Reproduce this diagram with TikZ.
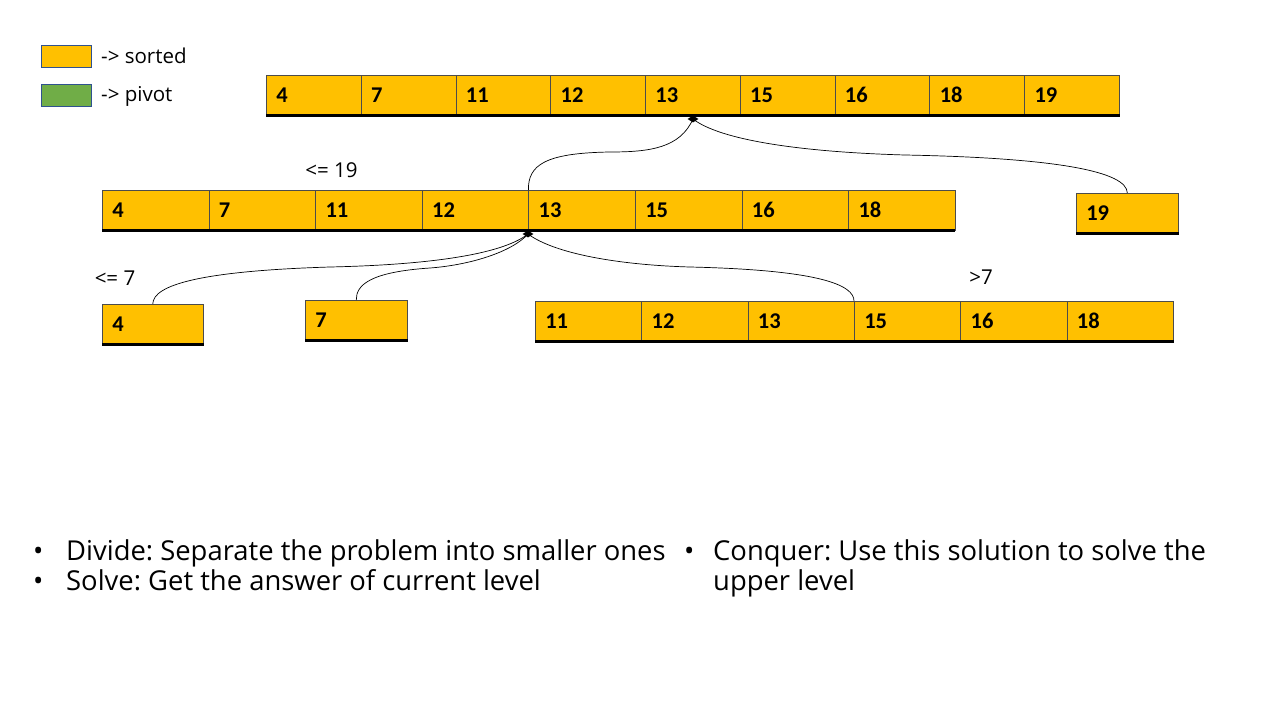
\documentclass[tikz,border=0pt]{standalone}
\usepackage{fontspec}
\setmainfont{Open Sans}
\newfontfamily\numfont{Carlito}
\usetikzlibrary{shapes.geometric}
\definecolor{sortc}{HTML}{FFC000}
\definecolor{pivc}{HTML}{70AD47}
\definecolor{legb}{HTML}{2F528F}
\frenchspacing
\begin{document}
\frenchspacing
\begin{tikzpicture}[x=1pt,y=-1pt,
  cell/.style={draw=black!70, line width=0.6pt, fill=sortc, rectangle, anchor=north west,
    minimum height=40pt, inner xsep=10pt, inner ysep=0pt, align=left,
    font=\numfont\bfseries\fontsize{22.5}{24}\selectfont},
  botline/.style={line width=2.4pt, black},
  conn/.style={line width=0.7pt, black},
  piv/.style={diamond, fill=black, inner sep=0pt, minimum width=11pt, minimum height=7pt},
  lbl/.style={font=\fontsize{20.5}{24}\selectfont, inner sep=0pt},
  bul/.style={font=\fontsize{27.4}{30}\selectfont, anchor=base west, inner sep=0pt}]
\useasboundingbox (0,0) rectangle (1280,720);
\fill[white] (0,0) rectangle (1280,720);
% legend
\node[draw=legb, fill=sortc, minimum width=50pt, minimum height=22pt, inner sep=0pt] (ls) at (66,56) {};
\node[lbl, anchor=west] (lst) at (101,56) {-> sorted};
\node[draw=legb, fill=pivc, minimum width=50pt, minimum height=22pt, inner sep=0pt] (lp) at (66,95) {};
\node[lbl, anchor=west] (lpt) at (101,96) {-> pivot};
% top row
\foreach \v [count=\i] in {4,7,11,12,13,15,16,18,19}
  \node[cell, minimum width=94.78pt, text width=74.78pt] (a\i) at ({266+(\i-1)*94.78},75) {\v};
\draw[botline] (a1.south west) -- (a9.south east);
% second row
\foreach \v [count=\i] in {4,7,11,12,13,15,16,18}
  \node[cell, minimum width=106.6pt, text width=86.6pt] (b\i) at ({102+(\i-1)*106.6},190) {\v};
\draw[botline] (b1.south west) -- (b8.south east);
\node[cell, minimum width=102pt, text width=82pt] (c) at (1076,193) {19};
\draw[botline] (c.south west) -- (c.south east);
% third row
\node[cell, minimum width=101pt, text width=81pt] (d) at (102,304) {4};
\draw[botline] (d.south west) -- (d.south east);
\node[cell, minimum width=102pt, text width=82pt] (e) at (305,300) {7};
\draw[botline] (e.south west) -- (e.south east);
\foreach \v [count=\i] in {11,12,13,15,16,18}
  \node[cell, minimum width=106.33pt, text width=86.33pt] (f\i) at ({535+(\i-1)*106.33},301) {\v};
\draw[botline] (f1.south west) -- (f6.south east);
% labels
\node[lbl] (l19) at (331.5,170) {<= 19};
\node[lbl] (l7) at (115,278) {<= 7};
\node[lbl] (lg7) at (981,277) {>7};
% pivots and connectors
\node[piv] (p1) at (693,119) {};
\draw[conn] (p1.center) .. controls (680,148) and (650,152) .. (610,152)
  .. controls (545,153) and (528,165) .. (b5.north west);
\draw[conn] (p1.center) .. controls (720,140) and (800,152) .. (905,155)
  .. controls (1060,158) and (1127,172) .. (c.north);
\node[piv] (p2) at (528,234) {};
\draw[conn] (p2.center) .. controls (500,256) and (420,265) .. (330,267)
  .. controls (200,271) and (153,285) .. (d.north);
\draw[conn] (p2.center) .. controls (512,252) and (470,265) .. (430,268)
  .. controls (370,272) and (356,285) .. (e.north);
\draw[conn] (p2.center) .. controls (555,254) and (620,265) .. (690,267)
  .. controls (820,270) and (854,285) .. (f4.north west);
% bullets
\node[bul] (b1a) at (33,560) {•};
\node[bul] (b1t) at (66,560) {Divide: Separate the problem into smaller ones};
\node[bul] (b2a) at (33,590) {•};
\node[bul] (b2t) at (66,590) {Solve: Get the answer of current level};
\node[bul] (b3a) at (684,560) {•};
\node[bul] (b3t) at (713,560) {Conquer: Use this solution to solve the};
\node[bul] (b4t) at (713,590) {upper level};
\end{tikzpicture}
\end{document}
